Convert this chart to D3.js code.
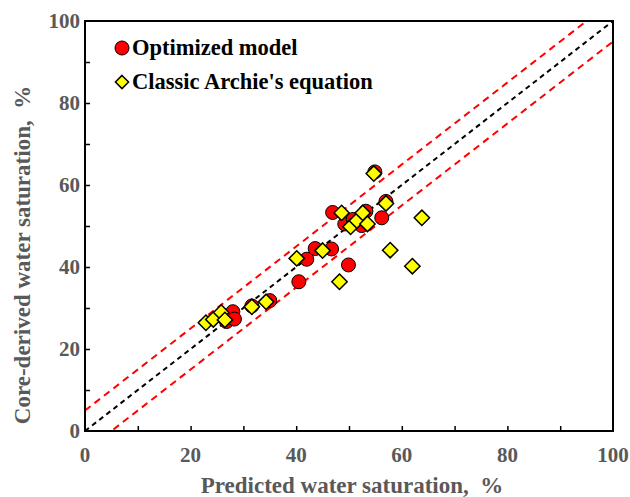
<!DOCTYPE html>
<html><head><meta charset="utf-8">
<script src="https://cdn.jsdelivr.net/npm/d3@7"></script>
<style>body{margin:0;background:#fff;} svg{display:block;}</style>
</head><body>
<script>
const optX = [26.8, 28.0, 28.3, 31.6, 35.0, 40.5, 42.0, 43.6, 46.7, 49.9, 46.9, 49.2, 50.8, 52.4, 53.2, 56.2, 54.9, 57.0];
const optY = [26.7, 29.1, 27.3, 30.5, 31.8, 36.4, 41.9, 44.5, 44.4, 40.5, 53.3, 50.5, 51.6, 50.1, 53.6, 52.0, 63.2, 56.0];
const arcX = [22.9, 24.3, 25.8, 26.5, 31.6, 34.3, 40.1, 45.0, 48.2, 48.6, 50.3, 51.5, 52.6, 53.5, 54.7, 57.0, 57.8, 62.0, 63.8];
const arcY = [26.4, 27.2, 28.9, 27.1, 30.3, 31.5, 42.1, 44.0, 36.4, 53.2, 49.8, 51.3, 53.2, 50.5, 62.8, 55.5, 44.1, 40.2, 52.0];
const tickVals = [0, 20, 40, 60, 80, 100];
const minorVals = [10, 20, 30, 40, 50, 60, 70, 80, 90];
const seriesNames = ["Optimized model", "Classic Archie's equation"];
const xTitle = "Predicted water saturation,\u00a0\u00a0%";
const yTitle = "Core-derived water saturation,\u00a0\u00a0%";

const W = 630, H = 497;
const L = 85, R = 613, T = 21, B = 431;
const x = d3.scaleLinear().domain([0, 100]).range([L, R]);
const y = d3.scaleLinear().domain([0, 100]).range([B, T]);
const svg = d3.select("body").append("svg").attr("width", W).attr("height", H);
const font = "'Liberation Serif','Times New Roman',serif";
const gray = "#595959";

const clipId = "clip";
svg.append("defs").append("clipPath").attr("id", clipId).append("rect")
  .attr("x", L).attr("y", T).attr("width", R - L).attr("height", B - T);

// reference lines
const lines = [
  {off: 0, color: "#000", dash: "5,4"},
  {off: 5, color: "#ff0000", dash: "7,5"},
  {off: -5, color: "#ff0000", dash: "7,5"}
];
lines.forEach(l => {
  svg.append("line")
    .attr("x1", x(0)).attr("y1", y(0 + l.off))
    .attr("x2", x(100)).attr("y2", y(100 + l.off))
    .attr("stroke", l.color).attr("stroke-width", 2)
    .attr("stroke-dasharray", l.dash)
    .attr("clip-path", `url(#${clipId})`);
});

// axes
const xAxis = d3.axisBottom(x).tickValues(minorVals).tickSize(-5).tickFormat("");
const yAxis = d3.axisLeft(y).tickValues(minorVals).tickSize(-5).tickFormat("");
const gx = svg.append("g").attr("transform", `translate(0,${B})`).call(xAxis);
const gy = svg.append("g").attr("transform", `translate(${L},0)`).call(yAxis);
[gx, gy].forEach(g => {
  g.select(".domain").remove();
  g.selectAll(".tick line").attr("stroke", "#000").attr("stroke-width", 1.5);
});
svg.append("rect").attr("x", L).attr("y", T).attr("width", R - L).attr("height", B - T)
  .attr("fill", "none").attr("stroke", "#000").attr("stroke-width", 2);

// tick labels
svg.append("g").selectAll("text").data(tickVals).join("text")
  .attr("x", d => x(d)).attr("y", B + 31)
  .attr("text-anchor", "middle")
  .attr("font-family", font).attr("font-weight", "bold").attr("font-size", 21)
  .attr("fill", gray).text(d => d);
svg.append("g").selectAll("text").data(tickVals).join("text")
  .attr("x", L - 5).attr("y", d => y(d) + 7)
  .attr("text-anchor", "end")
  .attr("font-family", font).attr("font-weight", "bold").attr("font-size", 21)
  .attr("fill", gray).text(d => d);

// axis titles
svg.append("text").attr("x", 352).attr("y", 493)
  .attr("text-anchor", "middle").attr("font-family", font).attr("font-weight", "bold")
  .attr("font-size", 23).attr("fill", gray).text(xTitle);
svg.append("text").attr("transform", `translate(30,255) rotate(-90)`)
  .attr("text-anchor", "middle").attr("font-family", font).attr("font-weight", "bold")
  .attr("font-size", 23).attr("fill", gray).text(yTitle);

// data
const opt = optX.map((v, i) => [v, optY[i]]);
const arc = arcX.map((v, i) => [v, arcY[i]]);
const diamond = d3.symbol().type(d3.symbolDiamond2).size(150);
svg.append("g").selectAll("circle").data(opt).join("circle")
  .attr("cx", d => x(d[0])).attr("cy", d => y(d[1])).attr("r", 7)
  .attr("fill", "#ff0000").attr("stroke", "#000").attr("stroke-width", 1);
svg.append("g").selectAll("path").data(arc).join("path")
  .attr("d", diamond)
  .attr("transform", d => `translate(${x(d[0])},${y(d[1])})`)
  .attr("fill", "#ffff00").attr("stroke", "#000").attr("stroke-width", 1.5);

// legend
const lg = svg.append("g");
lg.append("circle").attr("cx", 122).attr("cy", 48).attr("r", 7)
  .attr("fill", "#ff0000").attr("stroke", "#000").attr("stroke-width", 1);
lg.append("path").attr("d", d3.symbol().type(d3.symbolDiamond2).size(110))
  .attr("transform", "translate(122,82)")
  .attr("fill", "#ffff00").attr("stroke", "#000").attr("stroke-width", 1.5);
lg.selectAll("text").data(seriesNames).join("text")
  .attr("x", 132).attr("y", (d, i) => 55 + i * 34)
  .attr("font-family", font).attr("font-weight", "bold").attr("font-size", 22.5)
  .attr("fill", "#000").text(d => d);
</script>
</body></html>
